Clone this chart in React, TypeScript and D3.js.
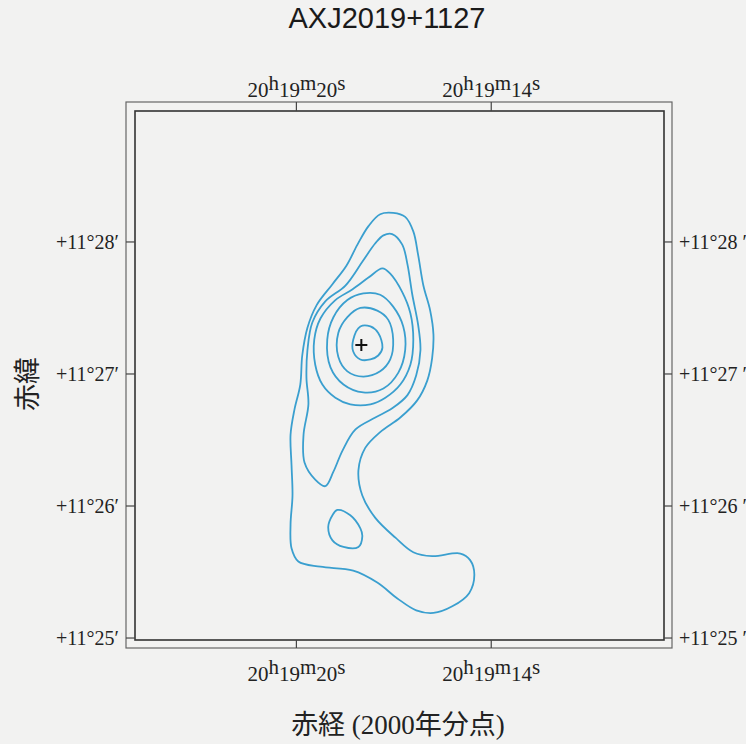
import React, { useRef, useEffect } from 'react';
import * as d3 from 'd3';

// RA in seconds of time (20h19m + s), Dec in arcmin (+11° + ')
const raTicks = [20, 14];
const decTicks = [28, 27, 26, 25];

const peak = [18.0, 27.22];

// contour levels, outermost first
const contour1 = [
  [17.42, 28.21], [17.02, 28.22], [16.65, 28.19], [16.4, 28.08], [16.25, 27.9], [16.09, 27.67],
  [15.88, 27.48], [15.78, 27.3], [15.82, 27.12], [15.97, 26.95], [16.28, 26.8], [16.8, 26.67],
  [17.42, 26.56], [17.88, 26.44], [18.09, 26.27], [17.97, 26.08], [17.57, 25.91], [16.95, 25.76],
  [16.4, 25.65], [15.82, 25.62], [14.95, 25.64], [14.65, 25.59], [14.52, 25.48], [14.68, 25.34],
  [15.2, 25.24], [15.78, 25.19], [16.31, 25.21], [16.89, 25.3], [17.51, 25.42], [18.25, 25.51],
  [19.26, 25.54], [19.94, 25.58], [20.15, 25.68], [20.18, 25.86], [20.12, 26.08], [20.15, 26.31],
  [20.18, 26.54], [20.06, 26.73], [19.88, 26.92], [19.82, 27.14], [19.66, 27.35], [19.38, 27.52],
  [18.89, 27.68], [18.46, 27.82], [18.12, 27.98], [17.78, 28.12],
];
const contour2 = [
  [17.32, 28.05], [17.05, 28.06], [16.74, 27.98], [16.58, 27.83], [16.43, 27.6], [16.25, 27.37],
  [16.18, 27.18], [16.31, 26.99], [16.58, 26.84], [17.05, 26.74], [17.57, 26.67], [18.18, 26.58],
  [18.58, 26.42], [18.86, 26.26], [19.11, 26.15], [19.42, 26.2], [19.75, 26.33], [19.78, 26.54],
  [19.63, 26.77], [19.69, 26.97], [19.66, 27.18], [19.51, 27.39], [19.11, 27.55], [18.49, 27.67],
  [17.97, 27.85], [17.57, 27.99],
];
const contour3 = [
  [17.35, 27.8], [17.11, 27.76], [16.74, 27.62], [16.49, 27.46], [16.4, 27.26], [16.49, 27.07],
  [16.8, 26.92], [17.26, 26.82], [17.72, 26.77], [18.34, 26.77], [18.8, 26.82], [19.2, 26.92],
  [19.42, 27.07], [19.45, 27.26], [19.26, 27.42], [18.8, 27.56], [18.28, 27.64], [17.78, 27.73],
];
const contour4 = [
  [17.94, 27.61], [17.42, 27.6], [17.02, 27.51], [16.71, 27.36], [16.65, 27.18], [16.86, 27.01],
  [17.32, 26.89], [17.94, 26.86], [18.55, 26.92], [18.95, 27.05], [19.05, 27.26], [18.86, 27.43],
  [18.43, 27.56],
];
const contour5 = [
  [18.03, 27.5], [17.51, 27.48], [17.17, 27.41], [17.02, 27.26], [17.11, 27.11], [17.42, 27.02],
  [17.94, 26.98], [18.43, 27.02], [18.71, 27.13], [18.71, 27.31], [18.43, 27.43],
];
const contour6 = [
  [18.03, 27.36], [17.72, 27.36], [17.48, 27.31], [17.35, 27.2], [17.48, 27.14], [17.72, 27.11],
  [18.03, 27.11], [18.25, 27.17], [18.25, 27.26],
];
const island = [
  [18.74, 25.97], [18.34, 25.93], [18.03, 25.83], [17.97, 25.77], [18.09, 25.69], [18.55, 25.69],
  [18.89, 25.74], [19.02, 25.84], [18.89, 25.93],
];

const contours = [contour1, contour2, contour3, contour4, contour5, contour6, island];

const App: React.FC = () => {
  const svgRef = useRef<SVGSVGElement>(null);

  useEffect(() => {
    if (!svgRef.current) return;
    const svg = d3.select(svgRef.current);
    svg.selectAll('*').remove();

    const W = 746, H = 744;
    const inner = { left: 135, right: 664, top: 111, bottom: 640 };
    const outer = { left: 126, right: 672, top: 102, bottom: 648 };

    svg.append('rect').attr('width', W).attr('height', H).attr('fill', '#f2f2f1');

    const x = d3.scaleLinear().domain([24.97, 8.68]).range([inner.left, inner.right]);
    const y = d3.scaleLinear().domain([24.985, 28.992]).range([inner.bottom, inner.top]);

    // title
    svg.append('text')
      .attr('x', 387).attr('y', 28)
      .attr('text-anchor', 'middle')
      .style('font-family', '"Liberation Sans", Arial, sans-serif')
      .style('font-size', '29px')
      .style('font-weight', 500)
      .style('fill', '#1a1a1a')
      .text('AXJ2019+1127');

    // frame
    svg.append('rect')
      .attr('x', outer.left).attr('y', outer.top)
      .attr('width', outer.right - outer.left).attr('height', outer.bottom - outer.top)
      .attr('fill', 'none').attr('stroke', '#666').attr('stroke-width', 1.2);
    svg.append('rect')
      .attr('x', inner.left).attr('y', inner.top)
      .attr('width', inner.right - inner.left).attr('height', inner.bottom - inner.top)
      .attr('fill', 'none').attr('stroke', '#333').attr('stroke-width', 1.6);

    const serif = '"Liberation Serif", "Times New Roman", serif';

    // RA ticks, top and bottom
    raTicks.forEach(s => {
      const px = x(s);
      svg.append('line').attr('x1', px).attr('x2', px).attr('y1', outer.top).attr('y2', inner.top)
        .attr('stroke', '#444').attr('stroke-width', 1.2);
      svg.append('line').attr('x1', px).attr('x2', px).attr('y1', inner.bottom).attr('y2', outer.bottom)
        .attr('stroke', '#444').attr('stroke-width', 1.2);
      [97, 681].forEach(by => {
        const t = svg.append('text')
          .attr('x', px).attr('y', by)
          .attr('text-anchor', 'middle')
          .style('font-family', serif)
          .style('font-size', '21px')
          .style('fill', '#222');
        t.append('tspan').text('20');
        t.append('tspan').attr('dy', -7).text('h');
        t.append('tspan').attr('dy', 7).text('19');
        t.append('tspan').attr('dy', -7).text('m');
        t.append('tspan').attr('dy', 7).text(String(s));
        t.append('tspan').attr('dy', -7).text('s');
      });
    });

    // Dec ticks, left and right
    decTicks.forEach(m => {
      const py = y(m);
      svg.append('line').attr('x1', outer.left).attr('x2', inner.left).attr('y1', py).attr('y2', py)
        .attr('stroke', '#444').attr('stroke-width', 1.2);
      svg.append('line').attr('x1', inner.right).attr('x2', outer.right).attr('y1', py).attr('y2', py)
        .attr('stroke', '#444').attr('stroke-width', 1.2);
      svg.append('text')
        .attr('x', 119).attr('y', py + 7)
        .attr('text-anchor', 'end')
        .style('font-family', serif).style('font-size', '20px').style('fill', '#222')
        .text(`+11°${m}′`);
      svg.append('text')
        .attr('x', 679).attr('y', py + 7)
        .attr('text-anchor', 'start')
        .style('font-family', serif).style('font-size', '20px').style('fill', '#222')
        .text(`+11°${m} ′`);
    });

    // contours
    const line = d3.line<number[]>()
      .x(d => x(d[0]))
      .y(d => y(d[1]))
      .curve(d3.curveCatmullRomClosed.alpha(0.5));

    svg.append('g')
      .selectAll('path')
      .data(contours)
      .enter()
      .append('path')
      .attr('d', d => line(d))
      .attr('fill', 'none')
      .attr('stroke', '#3a9fcf')
      .attr('stroke-width', 1.8);

    // peak marker
    const cx = x(peak[0]), cy = y(peak[1]);
    svg.append('path')
      .attr('d', `M${cx - 6},${cy}H${cx + 6}M${cx},${cy - 6}V${cy + 6}`)
      .attr('stroke', '#111').attr('stroke-width', 2);

    // axis titles
    svg.append('text')
      .attr('transform', 'translate(37,384) rotate(-90)')
      .attr('text-anchor', 'middle')
      .style('font-family', '"Noto Sans CJK JP", sans-serif')
      .style('font-size', '27px')
      .style('fill', '#222')
      .text('赤緯');

    svg.append('text')
      .attr('x', 398).attr('y', 734)
      .attr('text-anchor', 'middle')
      .style('font-family', '"Liberation Serif", "Noto Sans CJK JP", serif')
      .style('font-size', '27px')
      .style('fill', '#222')
      .text('赤経 (2000年分点)');
  }, []);

  return <svg ref={svgRef} width={746} height={744} style={{ position: 'absolute', left: 0, top: 0 }} />;
};

export default App;
